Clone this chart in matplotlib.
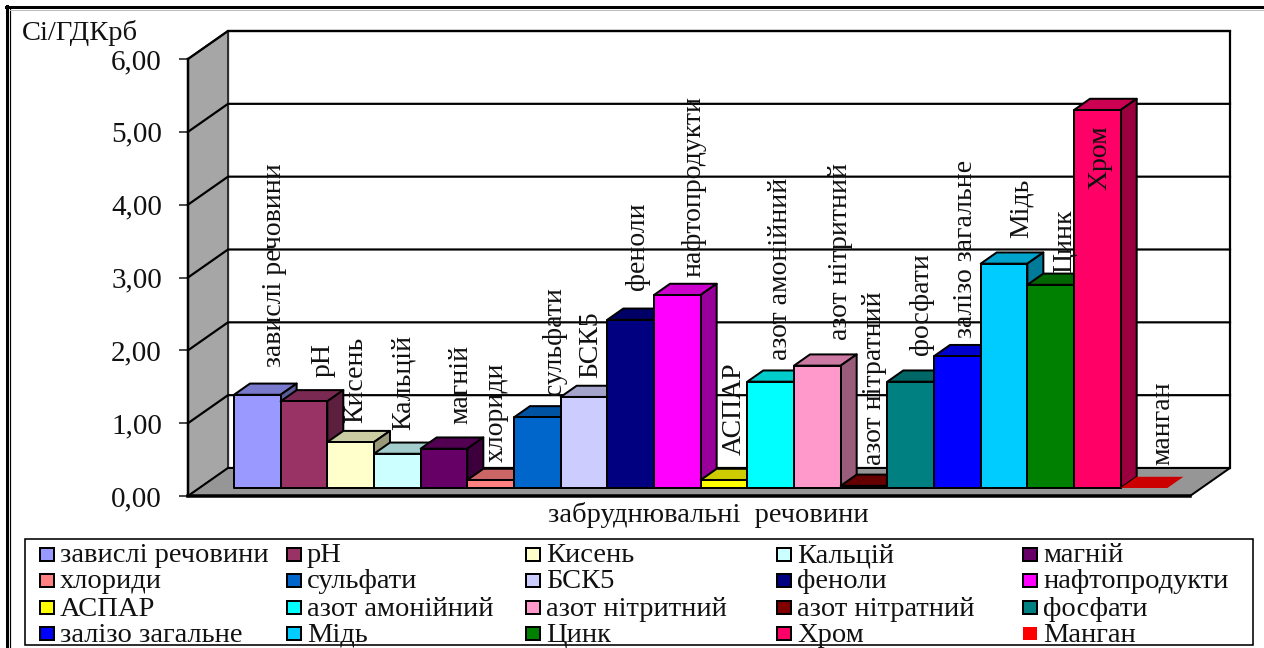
import numpy as np
import matplotlib
matplotlib.use("Agg")
import matplotlib.pyplot as plt
from matplotlib.patches import Polygon, Rectangle

plt.rcParams["font.family"] = ["Liberation Serif", "DejaVu Serif"]

# ---- data ----
names = ["завислі речовини", "pH", "Кисень", "Кальцій", "магній",
         "хлориди", "сульфати", "БСК5", "феноли", "нафтопродукти",
         "АСПАР", "азот амонійний", "азот нітритний", "азот нітратний", "фосфати",
         "залізо загальне", "Мідь", "Цинк", "Хром", "Манган"]
bar_labels = ["завислі речовини", "pH", "Кисень", "Кальцій", "магній",
              "хлориди", "сульфати", "БСК5", "феноли", "нафтопродукти",
              "АСПАР", "азот амонійний", "азот нітритний", "азот нітратний", "фосфати",
              "залізо загальне", "Мідь", "Цинк", "Хром", "манган"]
values = [1.28, 1.19, 0.63, 0.47, 0.54, 0.11, 0.97, 1.25, 2.31, 2.65,
          0.11, 1.46, 1.68, 0.03, 1.46, 1.81, 3.08, 2.79, 5.19, 0.00]
colors = ["#9999FF", "#993366", "#FFFFCC", "#CCFFFF", "#660066",
          "#FF8080", "#0066CC", "#CCCCFF", "#000080", "#FF00FF",
          "#FFFF00", "#00FFFF", "#FF99CC", "#800000", "#008080",
          "#0000FF", "#00CCFF", "#008000", "#FF0066", "#FF0000"]
yticks = [0, 1, 2, 3, 4, 5, 6]
ytick_labels = ["0,00", "1,00", "2,00", "3,00", "4,00", "5,00", "6,00"]

# label placement relative to the bar top, in pixels (sideways, upwards)
label_dx = [17, 19, 5, 6, 17, 6, 17, 7, 7, 17, 10, 10, 23, 10, 11, 8, 17, 14, 3, 19]
label_gap = [28, 24, 19, 24, 25, 18, 22, 19, 30, 18, 25, 22, 26, 21, 27, 18, 26, 12, -80, 23]

W, H = 1264, 648
DPI = 100
PX = 72 / DPI  # one pixel in points

# pseudo-3D box: depth 0 is the front plane, depth 1 the back wall
DX = 40 / 46.68
DV = 28 / 72.83
D_FRONT, D_BACK = 0.286, 0.686
X0, X1 = -0.74, 20.73


def shade(c, k):
    return tuple(np.array(matplotlib.colors.to_rgb(c)) * k)


def proj(x, v, d):
    return (x + d * DX, v + d * DV)


fig = plt.figure(figsize=(W / DPI, H / DPI), dpi=DPI, facecolor="white")
ax = fig.add_axes([188 / W, (H - 496) / H, 1002 / W, 437 / H])
ax.set_xlim(X0, X1)
ax.set_ylim(0, 6)
ax.patch.set_visible(False)

# walls and floor
ax.add_patch(Polygon([proj(X0, 0, 1), proj(X1, 0, 1), proj(X1, 6, 1), proj(X0, 6, 1)],
                     fc="white", ec="black", lw=2.2 * PX, clip_on=False, zorder=1))
ax.add_patch(Polygon([proj(X0, 0, 0), proj(X0, 0, 1), proj(X0, 6, 1), proj(X0, 6, 0)],
                     fc="#A6A6A6", ec="#303030", lw=2 * PX, clip_on=False, zorder=1))
ax.add_patch(Polygon([proj(X0, 0, 0), proj(X0, 0, 1), proj(X1, 0, 1), proj(X1, 0, 0)],
                     fc="#969696", ec="black", lw=2 * PX, clip_on=False, zorder=1))

# gridlines run along the left wall and across the back
for v in yticks[1:]:
    ax.plot(*zip(proj(X0, v, 0), proj(X0, v, 1), proj(X1, v, 1)),
            color="black", lw=2.2 * PX, clip_on=False, zorder=2)

# bars, left to right so each front face covers its neighbour's side
for i, (v, c) in enumerate(zip(values, colors)):
    a, b = i, i + 1
    if v > 0:
        edge = dict(ec="black", lw=2 * PX, joinstyle="round")
    else:
        edge = dict(ec="none")
    z = 3 + i * 0.01
    ax.add_patch(Polygon([proj(a, v, D_FRONT), proj(a, v, D_BACK), proj(b, v, D_BACK), proj(b, v, D_FRONT)],
                         fc=shade(c, 0.8), clip_on=False, zorder=z, **edge))
    if v > 0:
        ax.add_patch(Polygon([proj(b, 0, D_FRONT), proj(b, 0, D_BACK), proj(b, v, D_BACK), proj(b, v, D_FRONT)],
                             fc=shade(c, 0.6), clip_on=False, zorder=z, **edge))
        ax.add_patch(Polygon([proj(a, 0, D_FRONT), proj(b, 0, D_FRONT), proj(b, v, D_FRONT), proj(a, v, D_FRONT)],
                             fc=c, clip_on=False, zorder=z, **edge))

# vertical labels above the bars
for i, (lab, v) in enumerate(zip(bar_labels, values)):
    ax.annotate(lab, xy=proj(i + 0.5, v, D_FRONT), xytext=(label_dx[i] * PX, label_gap[i] * PX),
                textcoords="offset points", rotation=90, ha="center", va="bottom",
                fontsize=20, color="#111111", annotation_clip=False, zorder=5)

for s in ["top", "right"]:
    ax.spines[s].set_visible(False)
ax.spines["left"].set_linewidth(2.5 * PX)
ax.spines["bottom"].set_linewidth(3.5 * PX)
ax.spines["left"].set_zorder(4)
ax.spines["bottom"].set_zorder(4)
ax.set_xticks([])
ax.set_yticks(yticks, ytick_labels, fontsize=21)
ax.tick_params(axis="y", length=9 * PX, width=1.5 * PX, pad=17 * PX, colors="#111111")

# ---- overlay in pixel units: frame, titles, legend ----
ov = fig.add_axes([0, 0, 1, 1])
ov.set_xlim(0, W)
ov.set_ylim(H, 0)
ov.axis("off")
ov.patch.set_visible(False)

ov.plot([5.5, W], [7, 7], color="black", lw=3 * PX)
ov.plot([6.5, 6.5], [6, H], color="black", lw=3 * PX)
ov.plot([10, 10], [9, H], color="black", lw=1.2 * PX)
ov.plot([10, W], [10, 10], color="#BBBBBB", lw=1 * PX)

ov.text(22, 33, "Сі/ГДКрб", fontsize=20.5, ha="left", va="center", color="#111111")
ov.text(708, 515, "забруднювальні  речовини", fontsize=20.5, ha="center", va="center", color="#111111")

ov.add_patch(Rectangle((25, 539), 1228, 106, fc="white", ec="black", lw=1.6 * PX))
col_x = [39, 286, 525, 776, 1022]
row_y = [554, 580, 607, 633]
for i, (name, c) in enumerate(zip(names, colors)):
    cx, cy = col_x[i % 5], row_y[i // 5]
    ec = "none" if name == "Манган" else "black"
    ov.add_patch(Rectangle((cx + 1, cy - 6.5), 14, 13, fc=c, ec=ec, lw=2 * PX))
    ov.text(cx + 21, cy + 2, name, fontsize=20.5, ha="left", va="center", color="#111111")

fig.savefig("out.png", dpi=DPI)
